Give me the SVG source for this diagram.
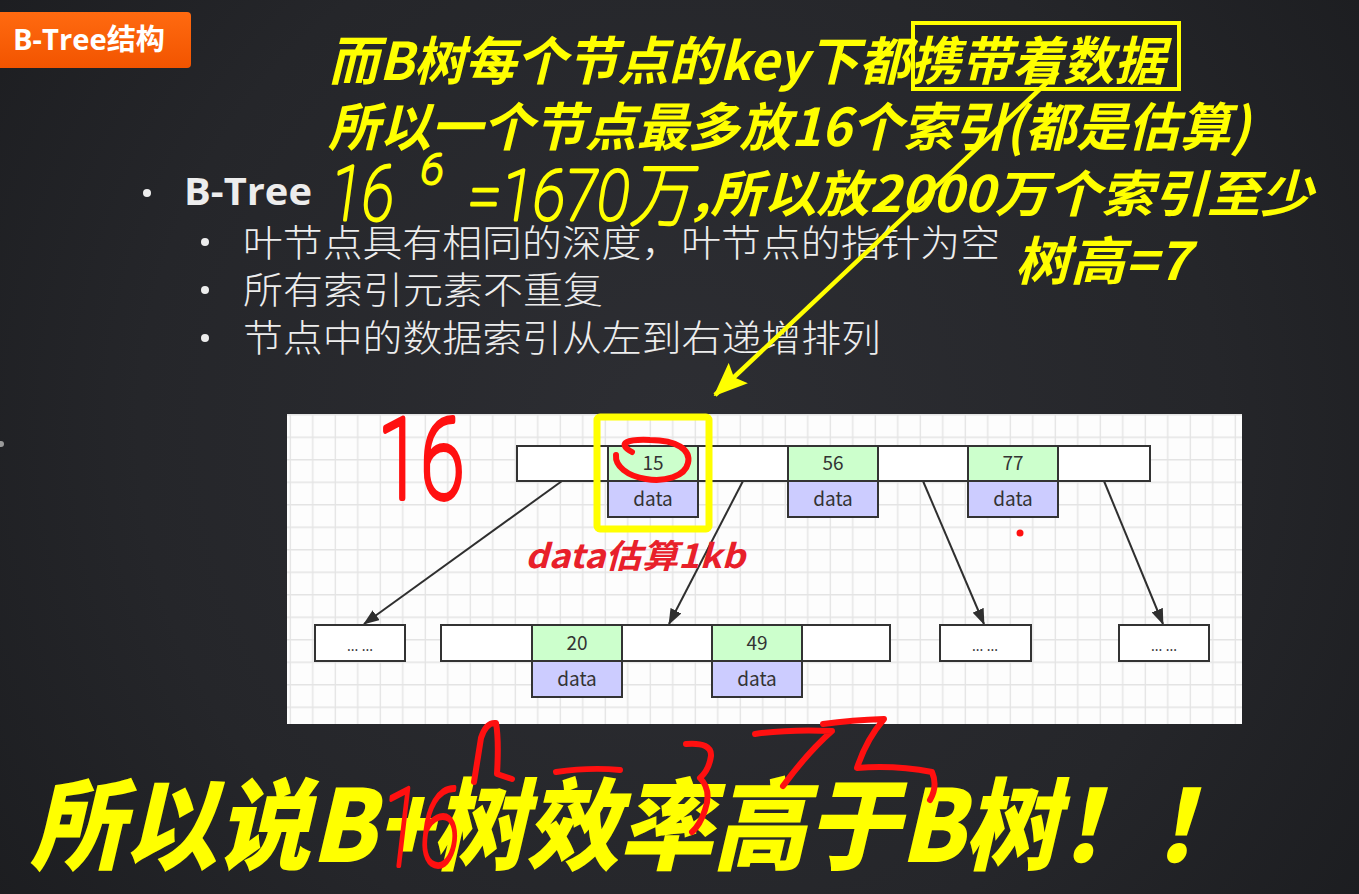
<svg xmlns="http://www.w3.org/2000/svg" width="1359" height="894" viewBox="0 0 1359 894">
  <defs>
    <radialGradient id="bg" cx="680" cy="430" r="900" gradientUnits="userSpaceOnUse">
      <stop offset="0" stop-color="#2d2e33"/>
      <stop offset="0.6" stop-color="#25262a"/>
      <stop offset="1" stop-color="#1a1b1e"/>
    </radialGradient>
    <linearGradient id="badge" x1="0" y1="0" x2="0" y2="1">
      <stop offset="0" stop-color="#ff6a10"/>
      <stop offset="1" stop-color="#f25400"/>
    </linearGradient>
    <pattern id="grid" x="287" y="414" width="22.5" height="22.5" patternUnits="userSpaceOnUse">
      <path d="M3.3 0V22.5M0 0.8H22.5" fill="none" stroke="#e4e4e4" stroke-width="1.4"/>
    </pattern>
    <marker id="ptr" markerUnits="userSpaceOnUse" markerWidth="16" markerHeight="12" refX="15" refY="6" orient="auto">
      <path d="M0 0L16 6L0 12Z" fill="#2f2f2f"/>
    </marker>
    <marker id="ylw" markerUnits="userSpaceOnUse" markerWidth="34" markerHeight="28" refX="32" refY="14" orient="auto">
      <path d="M0 0L34 14L0 28L6 14Z" fill="#ffff00"/>
    </marker>
  </defs>
  <style>
    .note { font-family: "Noto Sans CJK SC", "Noto Sans", sans-serif; font-weight: 700; font-style: italic; fill: #ffff00; }
    .big { font-weight: 900; }
    .hand { font-family: "Roboto", "Noto Sans CJK SC", sans-serif; font-weight: 100; font-style: italic; fill: #ffff00; stroke: #ffff00; stroke-width: 3; stroke-linejoin: round; }
    .redhand { font-family: "Roboto", sans-serif; font-weight: 100; fill: #ff1010; stroke: #ff1010; stroke-linejoin: round; }
    .bullet { font-family: "Noto Sans CJK SC", sans-serif; font-weight: 300; fill: #ededed; font-size: 37px; }
    .cell { stroke: #333333; stroke-width: 2; }
    .key { fill: #ccffcc; }
    .dat { fill: #ccccff; }
    .blank { fill: #ffffff; }
    .lbl { font-family: "Noto Sans CJK SC", "Noto Sans", sans-serif; font-size: 19px; fill: #333333; text-anchor: middle; }
    .dots { font-family: "Noto Sans", sans-serif; font-size: 14px; fill: #333333; text-anchor: middle; }
    .edge { stroke: #2f2f2f; stroke-width: 2; fill: none; marker-end: url(#ptr); }
    .ink { fill: none; stroke: #ff1010; stroke-width: 6; stroke-linecap: round; stroke-linejoin: round; }
  </style>

  <!-- slide background -->
  <rect width="1359" height="894" fill="url(#bg)"/>
  <circle cx="1" cy="444" r="3" fill="#9a9a9a"/>

  <!-- title badge -->
  <g id="title">
    <rect x="-6" y="12" width="197" height="56" rx="4" fill="url(#badge)"/>
    <text x="13" y="50" font-family="Open Sans, Noto Sans CJK SC, sans-serif" font-weight="700" font-size="29" fill="#ffffff" textLength="152" lengthAdjust="spacingAndGlyphs">B-Tree结构</text>
  </g>

  <!-- bullet list -->
  <g id="bullets">
    <circle cx="147" cy="193" r="4" fill="#ededed"/>
    <text x="184" y="205" font-family="Open Sans, Noto Sans, sans-serif" font-weight="700" font-size="38" fill="#ededed" textLength="128" lengthAdjust="spacingAndGlyphs">B-Tree</text>
    <circle cx="205" cy="242" r="4" fill="#ededed"/>
    <text class="bullet" x="243" y="257" textLength="757" lengthAdjust="spacingAndGlyphs">叶节点具有相同的深度，叶节点的指针为空</text>
    <circle cx="205" cy="290" r="4" fill="#ededed"/>
    <text class="bullet" x="243" y="304" textLength="360" lengthAdjust="spacingAndGlyphs">所有索引元素不重复</text>
    <circle cx="205" cy="338" r="4" fill="#ededed"/>
    <text class="bullet" x="243" y="352" textLength="638" lengthAdjust="spacingAndGlyphs">节点中的数据索引从左到右递增排列</text>
  </g>

  <!-- diagram canvas -->
  <g id="canvas">
    <rect x="287" y="414" width="955" height="310" fill="#fdfdfd"/>
    <rect x="287" y="414" width="955" height="310" fill="url(#grid)"/>
  </g>

  <!-- pointers between nodes -->
  <g id="connectors">
    <line class="edge" x1="562" y1="481" x2="364" y2="624"/>
    <line class="edge" x1="743" y1="481" x2="669" y2="624"/>
    <line class="edge" x1="923" y1="481" x2="984" y2="624"/>
    <line class="edge" x1="1104" y1="481" x2="1163" y2="624"/>
  </g>

  <!-- root node -->
  <g id="root">
    <rect class="cell blank" x="517" y="446" width="633" height="35"/>
    <rect class="cell key" x="608" y="446" width="90" height="35"/>
    <rect class="cell dat" x="608" y="481" width="90" height="36"/>
    <rect class="cell key" x="788" y="446" width="90" height="35"/>
    <rect class="cell dat" x="788" y="481" width="90" height="36"/>
    <rect class="cell key" x="968" y="446" width="90" height="35"/>
    <rect class="cell dat" x="968" y="481" width="90" height="36"/>
    <text class="lbl" x="653" y="470">15</text>
    <text class="lbl" x="653" y="506">data</text>
    <text class="lbl" x="833" y="470">56</text>
    <text class="lbl" x="833" y="506">data</text>
    <text class="lbl" x="1013" y="470">77</text>
    <text class="lbl" x="1013" y="506">data</text>
  </g>

  <!-- child nodes -->
  <g id="child-a">
    <rect class="cell blank" x="315" y="625" width="90" height="36"/>
    <text class="dots" x="360" y="651">... ...</text>
  </g>
  <g id="child-b">
    <rect class="cell blank" x="441" y="625" width="449" height="36"/>
    <rect class="cell key" x="532" y="625" width="90" height="36"/>
    <rect class="cell dat" x="532" y="661" width="90" height="36"/>
    <rect class="cell key" x="712" y="625" width="90" height="36"/>
    <rect class="cell dat" x="712" y="661" width="90" height="36"/>
    <text class="lbl" x="577" y="650">20</text>
    <text class="lbl" x="577" y="686">data</text>
    <text class="lbl" x="757" y="650">49</text>
    <text class="lbl" x="757" y="686">data</text>
  </g>
  <g id="child-c">
    <rect class="cell blank" x="940" y="625" width="91" height="36"/>
    <text class="dots" x="985" y="651">... ...</text>
  </g>
  <g id="child-d">
    <rect class="cell blank" x="1119" y="625" width="90" height="36"/>
    <text class="dots" x="1164" y="651">... ...</text>
  </g>

  <!-- yellow annotations -->
  <g id="notes">
    <text class="note" x="328" y="80" font-size="52" textLength="837" lengthAdjust="spacingAndGlyphs">而B树每个节点的key下都携带着数据</text>
    <rect x="913" y="23" width="266" height="66" fill="none" stroke="#ffff00" stroke-width="4"/>
    <text class="note" x="328" y="146" font-size="52" textLength="922" lengthAdjust="spacingAndGlyphs">所以一个节点最多放16个索引(都是估算)</text>
    <text class="hand" x="330" y="220" font-size="76" textLength="64" lengthAdjust="spacingAndGlyphs">16</text>
    <text class="hand" x="421" y="184" font-size="42">6</text>
    <text class="hand" x="468" y="220" font-size="70" textLength="222" lengthAdjust="spacingAndGlyphs">=1670万</text>
    <text class="note" x="693" y="212" font-size="50" textLength="620" lengthAdjust="spacingAndGlyphs">,所以放2000万个索引至少</text>
    <text class="note" x="1015" y="280" font-size="52" textLength="175" lengthAdjust="spacingAndGlyphs">树高=7</text>
    <line x1="1058" y1="72" x2="715" y2="395" stroke="#ffff00" stroke-width="4.5" marker-end="url(#ylw)"/>
    <rect x="597" y="417" width="112" height="112" rx="3" fill="none" stroke="#ffff00" stroke-width="7"/>
  </g>

  <!-- red annotations on the diagram -->
  <g id="red-marks">
    <path class="ink" stroke-width="7" d="M632 452C616 443 628 439 650 440C677 440 691 450 688 463C685 477 664 482 646 479C627 476 615 466 616 455"/>
    <text class="redhand" x="378" y="498" font-size="112" stroke-width="6" textLength="86" lengthAdjust="spacingAndGlyphs">16</text>
    <text x="525" y="568" font-family="Noto Sans CJK SC, sans-serif" font-weight="700" font-style="italic" font-size="33" fill="#e8202a" textLength="220" lengthAdjust="spacingAndGlyphs">data估算1kb</text>
    <circle cx="1020" cy="533" r="3.5" fill="#ff1010"/>
  </g>

  <!-- closing statement -->
  <g id="conclusion">
    <text class="note big" x="30" y="862" font-size="100" textLength="1215" lengthAdjust="spacingAndGlyphs">所以说B+树效率高于B树！！</text>
    <text class="redhand" x="380" y="866" font-size="110" stroke-width="4" font-style="italic" textLength="80" lengthAdjust="spacingAndGlyphs">16</text>
    <path class="ink" d="M474 782L481 738Q486 722 496 723Q499 740 497 774L512 779"/>
    <path class="ink" d="M556 772Q590 767 620 770"/>
    <path class="ink" d="M686 744Q712 742 711 756Q709 770 700 778M700 778Q712 790 705 810Q700 825 692 832"/>
    <path class="ink" d="M755 734Q790 729 832 731Q808 752 783 786"/>
    <path class="ink" d="M823 724Q852 720 884 719Q866 740 857 768Q895 765 932 772Q938 786 930 800"/>
  </g>
</svg>
